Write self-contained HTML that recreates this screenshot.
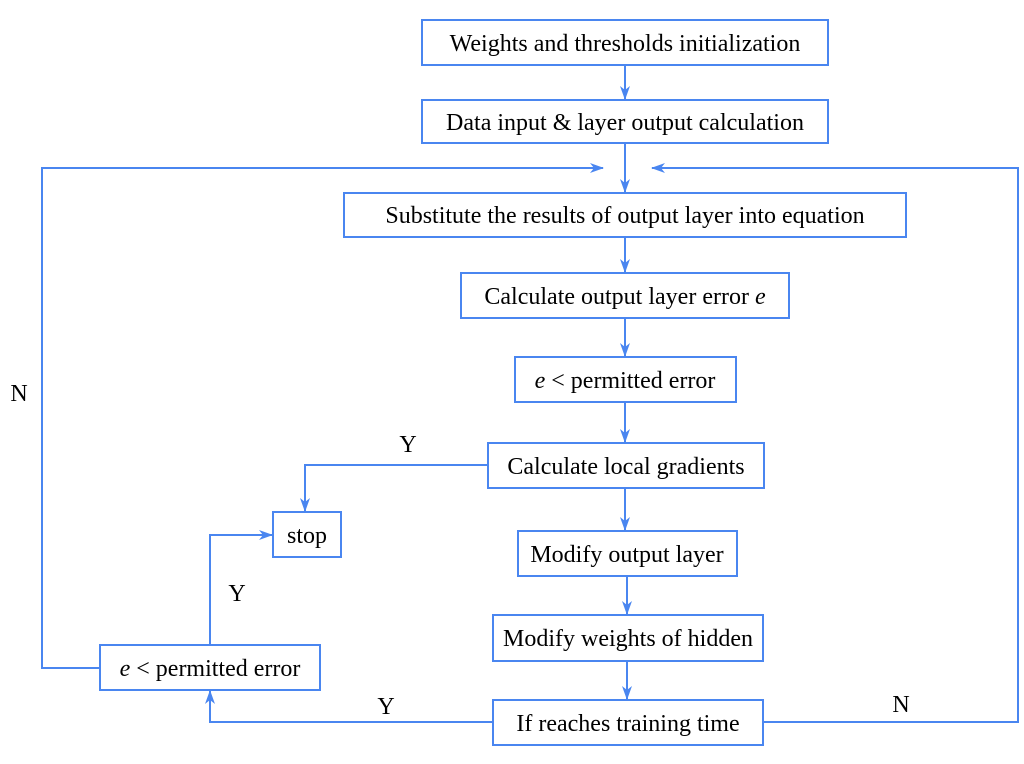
<!DOCTYPE html><html><head><meta charset="utf-8"><style>body{margin:0;background:#fff}</style></head><body>
<svg width="1024" height="759" xmlns="http://www.w3.org/2000/svg" font-family="Liberation Serif, serif" font-size="24">
<defs><marker id="a" markerWidth="14" markerHeight="10" refX="13" refY="5" orient="auto" markerUnits="userSpaceOnUse"><path d="M0,0 L14,5 L0,10 L4,5 z" fill="#4a86f0"/></marker></defs>
<g fill="none" stroke="#4a86f0" stroke-width="2">
<rect x="422" y="20" width="406" height="45"/>
<rect x="422" y="100" width="406" height="43"/>
<rect x="344" y="193" width="562" height="44"/>
<rect x="461" y="273" width="328" height="45"/>
<rect x="515" y="357" width="221" height="45"/>
<rect x="488" y="443" width="276" height="45"/>
<rect x="273" y="512" width="68" height="45"/>
<rect x="518" y="531" width="219" height="45"/>
<rect x="493" y="615" width="270" height="46"/>
<rect x="100" y="645" width="220" height="45"/>
<rect x="493" y="700" width="270" height="45"/>
<g marker-end="url(#a)">
<line x1="625" y1="65" x2="625" y2="99"/>
<line x1="625" y1="143" x2="625" y2="192"/>
<line x1="625" y1="237" x2="625" y2="272"/>
<line x1="625" y1="318" x2="625" y2="356"/>
<line x1="625" y1="402" x2="625" y2="442"/>
<line x1="625" y1="488" x2="625" y2="530"/>
<line x1="627" y1="576" x2="627" y2="614"/>
<line x1="627" y1="661" x2="627" y2="699"/>
<polyline points="100,668 42,668 42,168 603,168"/>
<polyline points="763,722 1018,722 1018,168 652,168"/>
<polyline points="488,465 305,465 305,511"/>
<polyline points="210,645 210,535 272,535"/>
<polyline points="493,722 210,722 210,691"/>
</g></g>
<g fill="#000" text-anchor="middle">
<text x="625" y="51">Weights and thresholds initialization</text>
<text x="625" y="130">Data input &amp; layer output calculation</text>
<text x="625" y="223">Substitute the results of output layer into equation</text>
<text x="625" y="304">Calculate output layer error <tspan font-style="italic">e</tspan></text>
<text x="625" y="388"><tspan font-style="italic">e</tspan> &lt; permitted error</text>
<text x="626" y="474">Calculate local gradients</text>
<text x="307" y="543">stop</text>
<text x="627" y="562">Modify output layer</text>
<text x="628" y="646">Modify weights of hidden</text>
<text x="210" y="676"><tspan font-style="italic">e</tspan> &lt; permitted error</text>
<text x="628" y="731">If reaches training time</text>
<text x="408" y="452">Y</text>
<text x="19" y="401">N</text>
<text x="237" y="601">Y</text>
<text x="386" y="714">Y</text>
<text x="901" y="712">N</text>
</g></svg></body></html>
